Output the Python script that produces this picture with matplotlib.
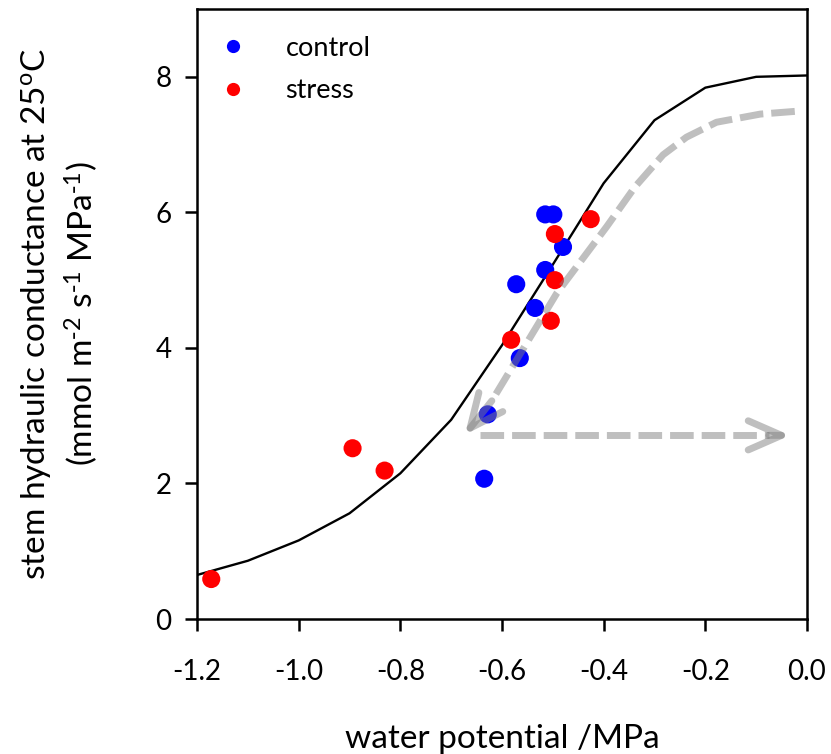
import matplotlib
matplotlib.use("Agg")
import matplotlib.pyplot as plt
from matplotlib.lines import Line2D

# --- data ---
control_x = [-0.515, -0.499, -0.480, -0.515, -0.572, -0.535, -0.565, -0.628, -0.635]
control_y = [5.97, 5.97, 5.49, 5.15, 4.94, 4.59, 3.85, 3.02, 2.07]

stress_x = [-0.4255, -0.496, -0.496, -0.504, -0.582, -0.894, -0.831, -1.172]
stress_y = [5.90, 5.68, 5.00, 4.40, 4.12, 2.52, 2.19, 0.59]

# fitted vulnerability curve (polyline at 0.1 MPa steps)
fit_x = [-1.2, -1.1, -1.0, -0.9, -0.8, -0.7, -0.6, -0.5, -0.4, -0.3, -0.2, -0.1, 0.0]
fit_y = [0.65, 0.86, 1.16, 1.56, 2.15, 2.94, 4.04, 5.23, 6.43, 7.36, 7.84, 8.00, 8.02]

# grey annotation arrows (shifted curve + horizontal shift)
shift_curve_x = [-0.024, -0.092, -0.178, -0.237, -0.283, -0.338, -0.394, -0.492, -0.591, -0.620]
shift_curve_y = [7.49, 7.45, 7.33, 7.11, 6.85, 6.38, 5.79, 4.81, 3.58, 3.22]
shift_curve_tip = (-0.673, 2.72)
horiz_x = [-0.643, -0.075]
horiz_y = [2.71, 2.71]
horiz_tip = (-0.033, 2.71)

xticks = [-1.2, -1.0, -0.8, -0.6, -0.4, -0.2, 0.0]
yticks = [0, 2, 4, 6, 8]

plt.rcParams['font.family'] = ['Lato', 'DejaVu Sans']
plt.rcParams['axes.unicode_minus'] = False
plt.rcParams['mathtext.default'] = 'regular'
plt.rcParams['font.size'] = 20

fig = plt.figure(figsize=(8.31, 7.54), dpi=100)
ax = fig.add_axes([0.2371, 0.179, 0.7340, 0.809])

ax.plot(fit_x, fit_y, color='black', lw=1.7, zorder=2)
ax.scatter(control_x, control_y, s=170, color='#0000ff', edgecolors='none', zorder=3, label='control')
ax.scatter(stress_x, stress_y, s=170, color='#ff0000', edgecolors='none', zorder=3, label='stress')

# grey dashed arrows, semi-transparent, on top of the points
grey = dict(color='#808080', alpha=0.5)
ax.plot(shift_curve_x, shift_curve_y, lw=5.0, dashes=(3.4, 1.15), solid_capstyle='butt',
        zorder=4, **grey)
ax.annotate('', xy=shift_curve_tip, xytext=(shift_curve_x[-1], shift_curve_y[-1]),
            arrowprops=dict(arrowstyle='->, head_length=2.4, head_width=1.1', mutation_scale=10,
                            lw=5.0, shrinkA=0, shrinkB=0, **grey), zorder=4)
ax.plot(horiz_x, horiz_y, lw=5.0, dashes=(3.4, 1.15), solid_capstyle='butt', zorder=4, **grey)
ax.annotate('', xy=horiz_tip, xytext=(horiz_x[-1], horiz_y[-1]),
            arrowprops=dict(arrowstyle='->, head_length=2.4, head_width=1.05', mutation_scale=10,
                            lw=5.0, shrinkA=0, shrinkB=0, **grey), zorder=4)

ax.set_xlim(-1.2, 0.0)
ax.set_ylim(0, 9)
ax.set_xticks(xticks)
ax.set_xticklabels(['%.1f' % t for t in xticks])
ax.set_yticks(yticks)
ax.tick_params(direction='out', length=8.5, width=1.8, labelsize=20, top=False, right=False)
ax.tick_params(axis='x', pad=20)
ax.tick_params(axis='y', pad=10)
for sp in ax.spines.values():
    sp.set_linewidth(1.8)

ax.set_xlabel('water potential /MPa', fontsize=24, labelpad=28)
ax.set_ylabel('stem hydraulic conductance at 25$^{o}$C\n'
              '(mmol m$^{\\text{-}2}$ s$^{\\text{-}1}$ MPa$^{\\text{-}1}$)', fontsize=24,
              labelpad=40, linespacing=1.3)

handles = [Line2D([], [], ls='none', marker='o', ms=9.5, color='#0000ff', mec='none'),
           Line2D([], [], ls='none', marker='o', ms=9.5, color='#ff0000', mec='none')]
ax.legend(handles, ['control', 'stress'], loc='upper left', bbox_to_anchor=(0.015, 0.956),
          frameon=False, fontsize=19.5, handlelength=2.0, handletextpad=0.93,
          borderpad=0, borderaxespad=0, labelspacing=0.65)

fig.savefig('out.png', dpi=100)
